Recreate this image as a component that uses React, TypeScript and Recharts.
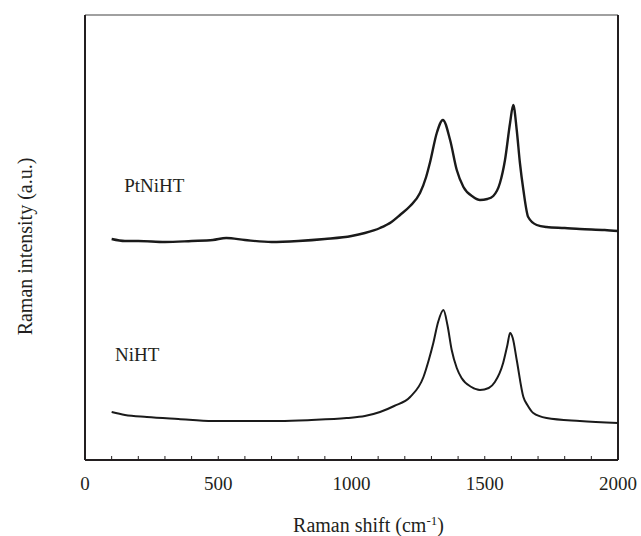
import React from 'react';
import { LineChart, Line, XAxis, YAxis, ReferenceDot, ReferenceLine } from 'recharts';

// Raman shift (cm-1) / intensity (a.u.)
const ptNiX = [100, 150, 200, 300, 400, 480, 530, 600, 700, 800, 900, 1000, 1050, 1107, 1150, 1182, 1220, 1257, 1280, 1295, 1320, 1343, 1370, 1395, 1420, 1457, 1482, 1510, 1532, 1557, 1576, 1595, 1607, 1620, 1632, 1645, 1663, 1695, 1732, 1800, 1857, 1950, 2000];
const ptNiY = [221, 219, 219, 218, 219, 220, 222, 220, 218, 219, 221, 224, 227, 232, 238, 245, 254, 267, 283, 298, 327, 340, 320, 290, 273, 263, 260, 261, 264, 277, 300, 337, 355, 330, 297, 270, 243, 235, 233, 232, 231, 230, 229];

const niX = [100, 150, 232, 350, 480, 600, 730, 850, 982, 1050, 1107, 1160, 1220, 1270, 1290, 1307, 1325, 1345, 1360, 1376, 1395, 1413, 1450, 1482, 1515, 1538, 1569, 1585, 1595, 1605, 1620, 1645, 1660, 1682, 1732, 1857, 2000];
const niY = [48, 45, 43, 41, 39, 39, 39, 40, 42, 44, 48, 54, 63, 83, 100, 117, 138, 150, 135, 110, 92, 82, 73, 70, 72, 78, 97, 115, 127, 122, 100, 63, 55, 47, 42, 39, 37];

const xTicks = [0, 100, 200, 300, 400, 500, 600, 700, 800, 900, 1000, 1100, 1200, 1300, 1400, 1500, 1600, 1700, 1800, 1900, 2000];
const xLabelTicks = [0, 500, 1000, 1500, 2000];

const seriesNames = ['PtNiHT', 'NiHT'];
const nameX = [147, 113];
const nameY = [275, 106];

const X_MIN = 0;
const X_MAX = 2000;
const Y_MIN = 0;
const Y_MAX = 445;

const ptNiData = ptNiX.map((x, i) => ({ x, y: ptNiY[i] }));
const niData = niX.map((x, i) => ({ x, y: niY[i] }));

const FONT = '"Liberation Serif", "Times New Roman", serif';
const INK = '#231f20';

const XTick = (props: any) => {
  const { x, y, payload } = props;
  const show = xLabelTicks.includes(payload.value);
  return (
    <g>
      <line x1={x} x2={x} y1={y} y2={y - 4} stroke={INK} strokeWidth={1} />
      {show && (
        <text x={x} y={y + 30} textAnchor="middle" fontFamily={FONT} fontSize={19} fill={INK}>
          {payload.value}
        </text>
      )}
    </g>
  );
};

const XTitle = (props: any) => {
  const vb = props.viewBox;
  return (
    <text x={vb.x + vb.width / 2 + 17} y={vb.y + 72} textAnchor="middle" fontFamily={FONT} fontSize={20} fill={INK}>
      <tspan>Raman shift (cm</tspan>
      <tspan dy={-7} fontSize={13}>-1</tspan>
      <tspan dy={7}>)</tspan>
    </text>
  );
};

const YTitle = (props: any) => {
  const vb = props.viewBox;
  const cx = 32;
  const cy = vb.y + vb.height / 2 + 9;
  return (
    <text x={cx} y={cy} transform={`rotate(-90 ${cx} ${cy})`} textAnchor="middle" fontFamily={FONT} fontSize={20} fill={INK}>
      Raman intensity (a.u.)
    </text>
  );
};

export default function App() {
  return (
    <div style={{ position: 'absolute', left: 0, top: 0, background: '#fff' }}>
      <LineChart width={641} height={536} margin={{ top: 15, right: 23, bottom: 0, left: 0 }}>
        <XAxis
          dataKey="x"
          type="number"
          domain={[X_MIN, X_MAX]}
          ticks={xTicks}
          interval={0}
          tickSize={0}
          tickMargin={0}
          tick={<XTick />}
          tickLine={false}
          height={76}
          axisLine={{ stroke: INK, strokeWidth: 2 }}
          label={<XTitle />}
          allowDataOverflow
        />
        <YAxis
          type="number"
          domain={[Y_MIN, Y_MAX]}
          tick={false}
          tickLine={false}
          width={85}
          axisLine={{ stroke: INK, strokeWidth: 2 }}
          label={<YTitle />}
          allowDataOverflow
        />
        <ReferenceLine y={Y_MAX} stroke="#808080" strokeWidth={1.5} ifOverflow="visible" />
        <ReferenceLine x={X_MAX} stroke={INK} strokeWidth={2} ifOverflow="visible" />
        <Line data={ptNiData} dataKey="y" type="monotone" stroke="#1a1a1a" strokeWidth={2.4} dot={false} isAnimationActive={false} />
        <Line data={niData} dataKey="y" type="monotone" stroke="#1a1a1a" strokeWidth={2} dot={false} isAnimationActive={false} />
        {seriesNames.map((n, i) => (
          <ReferenceDot
            key={n}
            x={nameX[i]}
            y={nameY[i]}
            r={0}
            fill="none"
            stroke="none"
            ifOverflow="visible"
            label={{ value: n, position: 'right', offset: 0, fontSize: 19, fontFamily: FONT, fill: INK }}
          />
        ))}
      </LineChart>
    </div>
  );
}
